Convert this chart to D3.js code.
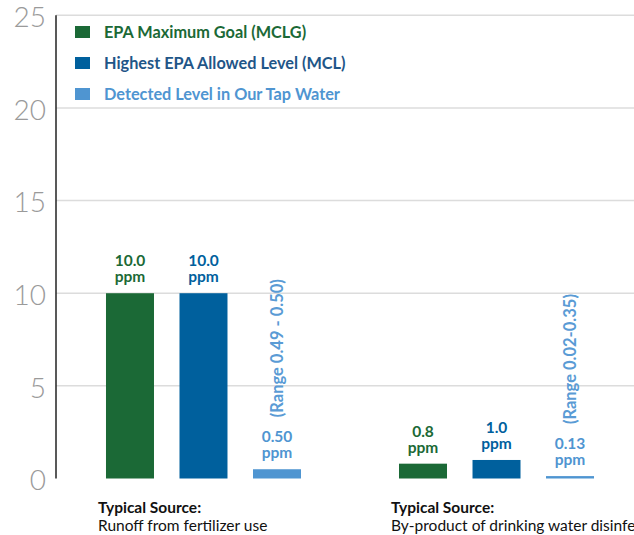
<!doctype html>
<html>
<head>
<meta charset="utf-8">
<title>Nitrate and Chlorite levels</title>
<script src="https://cdn.jsdelivr.net/npm/d3@7/dist/d3.min.js"></script>
<style>
  body { margin: 0; background: #fff; }
  svg { display: block; font-family: Lato, "Open Sans", sans-serif; }
</style>
</head>
<body>
<div id="chart"></div>
<script>
  // data
  var categories = ["Nitrate", "Chlorite"];
  var seriesNames = ["EPA Maximum Goal (MCLG)", "Highest EPA Allowed Level (MCL)", "Detected Level in Our Tap Water"];
  var mclg = [10.0, 0.8];
  var mcl = [10.0, 1.0];
  var detected = [0.50, 0.13];
  var detectedRange = ["(Range 0.49 - 0.50)", "(Range 0.02-0.35)"];
  var sourceText = ["Runoff from fertilizer use", "By-product of drinking water disinfection"];
  var yTicks = [0, 5, 10, 15, 20, 25];

  var barColors = ["#1b6936", "#00609d", "#4f95d1"];
  var legendColors = ["#1b6936", "#1f5688", "#4f95d1"];
  var labelColors = ["#1b6936", "#00609d", "#4f95d1"];
  var decimals = [1, 1, 2];

  var width = 634, height = 535;
  var svg = d3.select("#chart").append("svg")
    .attr("width", width).attr("height", height);

  var y = d3.scaleLinear().domain([0, 25]).range([478.5, 15.3]);
  var x0 = d3.scaleBand().domain(categories).range([56, 644])
    .paddingInner(0.3345).paddingOuter(0.1706);
  var x1 = d3.scaleBand().domain(d3.range(3)).range([0, x0.bandwidth()])
    .paddingInner(0.347).paddingOuter(0);

  // grid lines
  svg.append("g").selectAll("line")
    .data(yTicks.filter(function(d) { return d > 0; }))
    .join("line")
    .attr("x1", 56).attr("x2", width)
    .attr("y1", function(d) { return y(d); })
    .attr("y2", function(d) { return y(d); })
    .attr("stroke", "#dcdcdc").attr("stroke-width", 1.5);

  // y axis
  var yAxis = svg.append("g").attr("transform", "translate(56,0)")
    .call(d3.axisLeft(y).tickValues(yTicks).tickSize(0).tickPadding(10));
  yAxis.select(".domain").attr("stroke", "#222").attr("stroke-width", 1.5)
    .attr("d", "M0," + y(25) + "V" + y(0));
  yAxis.selectAll("text")
    .attr("font-size", 28).attr("font-weight", 300)
    .attr("fill", "#9a9a9a").attr("dy", "0.4em")
    .style("font-family", "Lato, sans-serif");

  // legend
  var legend = svg.append("g").selectAll("g")
    .data(seriesNames).join("g")
    .attr("transform", function(d, i) { return "translate(75," + (26 + i * 31) + ")"; });
  legend.append("rect").attr("width", 15).attr("height", 12)
    .attr("fill", function(d, i) { return barColors[i]; });
  legend.append("text").attr("x", 29).attr("y", 11.5)
    .attr("font-size", 16.3).attr("font-weight", 700)
    .attr("fill", function(d, i) { return legendColors[i]; })
    .text(function(d) { return d; });

  // bars
  var rows = categories.map(function(c, i) {
    return { cat: c, values: [mclg[i], mcl[i], detected[i]], range: detectedRange[i], source: sourceText[i] };
  });

  var groups = svg.append("g").selectAll("g")
    .data(rows).join("g")
    .attr("transform", function(d) { return "translate(" + x0(d.cat) + ",0)"; });

  groups.selectAll("rect")
    .data(function(d) { return d.values; })
    .join("rect")
    .attr("x", function(d, i) { return x1(i); })
    .attr("width", x1.bandwidth())
    .attr("y", function(d) { return y(d); })
    .attr("height", function(d) { return y(0) - y(d); })
    .attr("fill", function(d, i) { return barColors[i]; });

  // value labels, two lines each
  var cx = function(d, i) { return x1(i) + x1.bandwidth() / 2; };
  groups.selectAll("text.val")
    .data(function(d) { return d.values; })
    .join("text").attr("class", "val")
    .attr("text-anchor", "middle")
    .attr("font-size", 15.5).attr("font-weight", 700)
    .attr("fill", function(d, i) { return labelColors[i]; })
    .attr("x", cx)
    .attr("y", function(d) { return y(d) - 27; })
    .text(function(d, i) { return d.toFixed(decimals[i]); });
  groups.selectAll("text.unit")
    .data(function(d) { return d.values; })
    .join("text").attr("class", "unit")
    .attr("text-anchor", "middle")
    .attr("font-size", 15.5).attr("font-weight", 700)
    .attr("fill", function(d, i) { return labelColors[i]; })
    .attr("x", cx)
    .attr("y", function(d) { return y(d) - 11; })
    .text("ppm");

  // rotated range note above the detected bar
  groups.append("text")
    .attr("transform", function(d) {
      var tx = x1(2) + x1.bandwidth() / 2 + 6;
      var ty = y(d.values[2]) - 52;
      return "translate(" + tx + "," + ty + ") rotate(-90)";
    })
    .attr("font-size", 16.5).attr("font-weight", 700)
    .attr("fill", "#5a9bd5")
    .text(function(d) { return d.range; });

  // source notes under each group
  groups.append("text")
    .attr("x", -8).attr("y", 513)
    .attr("font-size", 15.5).attr("font-weight", 700).attr("fill", "#111")
    .text("Typical Source:");
  groups.append("text")
    .attr("x", -8).attr("y", 531)
    .attr("font-size", 15.5).attr("fill", "#111")
    .text(function(d) { return d.source; });
</script>
</body>
</html>
